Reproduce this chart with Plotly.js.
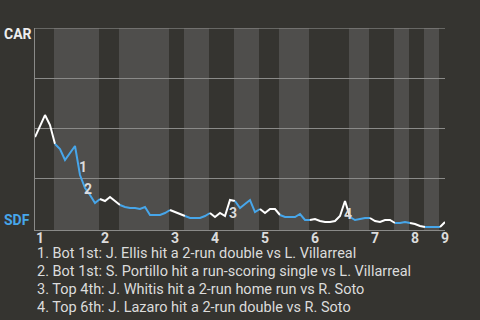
<!DOCTYPE html>
<html>
<head>
<meta charset="utf-8">
<script src="https://cdn.plot.ly/plotly-3.0.1.min.js"></script>
<style>
  html, body { margin: 0; padding: 0; background: #353430; }
  #chart { width: 480px; height: 320px; }
</style>
</head>
<body>
<div id="chart"></div>
<script>
// ---- DATA ----
// CAR win probability after each play (play index 0..82)
const winProb = [
  0.455, 0.51, 0.565, 0.515, 0.42,
  0.395, 0.34, 0.375, 0.41, 0.265, 0.20, 0.165, 0.125, 0.145,
  0.135, 0.155, 0.135, 0.115,
  0.105, 0.10, 0.10, 0.095, 0.105, 0.065, 0.065, 0.065, 0.075, 0.09,
  0.08, 0.07, 0.06,
  0.05, 0.05, 0.05, 0.06, 0.075,
  0.055, 0.075, 0.06, 0.14, 0.135,
  0.10, 0.12, 0.14, 0.08, 0.095,
  0.075, 0.095, 0.095, 0.065,
  0.055, 0.055, 0.055, 0.07, 0.04, 0.04,
  0.045, 0.035, 0.03, 0.03, 0.035, 0.06, 0.135, 0.055,
  0.04, 0.045, 0.05, 0.05,
  0.035, 0.03, 0.04, 0.04, 0.025,
  0.025, 0.03, 0.025,
  0.02, 0.01, 0.005,
  0.005, 0.005, 0.005,
  0.03
];
// play index where each half-inning starts (top 1st, bot 1st, top 2nd, ...)
const halfInningStarts = [0, 4, 13, 17, 27, 30, 35, 40, 45, 49, 55, 63, 67, 72, 75, 78, 81];
const lastPlay = 82;
const inningLabels = ['1', '2', '3', '4', '5', '6', '7', '8', '9'];
const teamTop = 'CAR';
const teamBottom = 'SDF';
const eventPlays = [9, 10, 39, 62];
const eventLabels = ['1', '2', '3', '4'];
const eventTexts = [
  '1. Bot 1st: J. Ellis hit a 2-run double vs L. Villarreal',
  '2. Bot 1st: S. Portillo hit a run-scoring single vs L. Villarreal',
  '3. Top 4th: J. Whitis hit a 2-run home run vs R. Soto',
  '4. Top 6th: J. Lazaro hit a 2-run double vs R. Soto'
];

// ---- STYLE ----
const BG = '#353430';
const BAND = '#4f4e4c';
const GRID = '#8a8a88';
const WHITE = '#ffffff';
const BLUE = '#47a6ea';
const TXT = '#dcdcdc';
const FONT = 'Roboto, "Open Sans", sans-serif';

const traces = [];
const shapes = [];
for (let k = 0; k < halfInningStarts.length; k++) {
  const s = halfInningStarts[k];
  const e = k + 1 < halfInningStarts.length ? halfInningStarts[k + 1] : lastPlay;
  const xs = [], ys = [];
  for (let i = s; i <= e; i++) { xs.push(i); ys.push(winProb[i]); }
  const isBottom = k % 2 === 1;
  traces.push({
    type: 'scatter', mode: 'lines', x: xs, y: ys,
    line: { color: isBottom ? BLUE : WHITE, width: 2 },
    hoverinfo: 'skip', showlegend: false
  });
  if (isBottom) {
    shapes.push({
      type: 'rect', xref: 'x', yref: 'paper', x0: s - 0.2, x1: e - 0.2, y0: 0, y1: 1,
      fillcolor: BAND, line: { width: 0 }, layer: 'below'
    });
  }
}
// top border line of the plot (100% line)
shapes.push({
  type: 'line', xref: 'paper', yref: 'y', x0: 0, x1: 1, y0: 1, y1: 1,
  line: { color: GRID, width: 1 }, layer: 'below'
});

const annotations = [];
annotations.push({
  text: '<b>' + teamTop + '</b>', xref: 'paper', yref: 'paper',
  x: -35 / 410, y: (230 - 33.5) / 202, xanchor: 'left', yanchor: 'middle',
  showarrow: false, xshift: 2, font: { family: FONT, size: 14, color: '#eeeeee' }
});
annotations.push({
  text: '<b>' + teamBottom + '</b>', xref: 'paper', yref: 'paper',
  x: -35 / 410, y: (230 - 220) / 202, xanchor: 'left', yanchor: 'middle',
  showarrow: false, xshift: 2, font: { family: FONT, size: 14, color: BLUE }
});
// inning labels at the start of each top half
halfInningStarts.filter((v, k) => k % 2 === 0).forEach((v, j) => {
  annotations.push({
    text: '<b>' + inningLabels[j] + '</b>', xref: 'x', yref: 'paper',
    x: v, y: (230 - 237.5) / 202, xanchor: 'left', yanchor: 'middle',
    showarrow: false, xshift: -1, font: { family: FONT, size: 14, color: TXT }
  });
});
const labelShift = [[3, 8], [3, -1], [3, -13], [3, -13]];
eventPlays.forEach((p, j) => {
  annotations.push({
    text: '<b>' + eventLabels[j] + '</b>', x: p, y: winProb[p],
    xref: 'x', yref: 'y', showarrow: false,
    xshift: labelShift[j][0], yshift: labelShift[j][1],
    font: { family: FONT, size: 14, color: TXT }
  });
});
eventTexts.forEach((t, j) => {
  annotations.push({
    text: t, xref: 'paper', yref: 'paper',
    x: 0, y: (230 - (253 + 18 * j)) / 202, xanchor: 'left', yanchor: 'middle',
    showarrow: false, font: { family: FONT, size: 14.5, color: TXT }
  });
});

const layout = {
  width: 480, height: 320,
  margin: { l: 35, r: 35, t: 28, b: 90, pad: 0 },
  paper_bgcolor: BG, plot_bgcolor: BG,
  showlegend: false,
  xaxis: {
    range: [0, lastPlay], showgrid: false, zeroline: false,
    showline: true, linecolor: GRID, linewidth: 1,
    showticklabels: false, ticks: '',
    fixedrange: true
  },
  yaxis: {
    range: [-0.01, 1.0005], showgrid: true, gridcolor: GRID, gridwidth: 1,
    tickmode: 'array', tickvals: [0.25, 0.5, 0.75], showticklabels: false,
    zeroline: false, showline: true, linecolor: GRID, linewidth: 1, ticks: '',
    fixedrange: true
  },
  shapes: shapes,
  annotations: annotations
};

Plotly.newPlot('chart', traces, layout, { staticPlot: true, displayModeBar: false });
</script>
</body>
</html>
